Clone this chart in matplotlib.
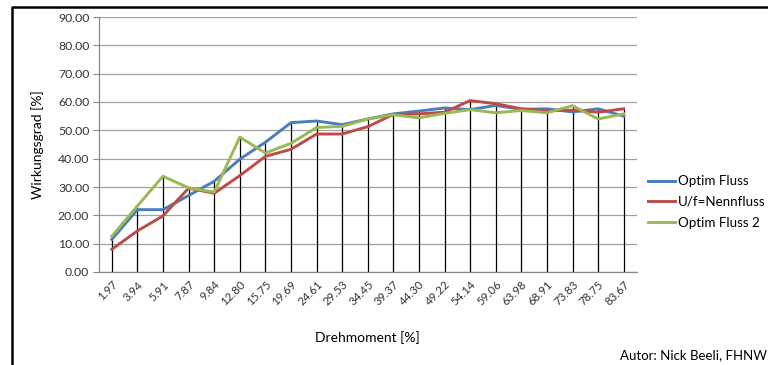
import matplotlib
matplotlib.use("Agg")
import matplotlib.pyplot as plt
import numpy as np

plt.rcParams['font.family'] = ['Lato', 'DejaVu Sans']

torque = ["1.97", "3.94", "5.91", "7.87", "9.84", "12.80", "15.75", "19.69", "24.61",
          "29.53", "34.45", "39.37", "44.30", "49.22", "54.14", "59.06", "63.98",
          "68.91", "73.83", "78.75", "83.67"]

optim_fluss = [11.5, 22.0, 22.0, 27.0, 32.0, 39.8, 45.8, 52.7, 53.3, 52.0, 54.0, 55.8,
               56.8, 57.9, 57.3, 58.8, 57.4, 57.6, 56.5, 57.6, 55.0]
nennfluss = [8.0, 14.5, 19.8, 29.6, 27.8, 34.0, 40.8, 43.3, 48.7, 48.7, 51.3, 55.6,
             55.8, 56.4, 60.5, 59.4, 57.6, 56.9, 57.1, 56.4, 57.6]
optim_fluss_2 = [12.6, 23.3, 33.8, 29.7, 28.2, 47.6, 42.0, 45.4, 51.0, 51.4, 54.0, 55.5,
                 54.4, 56.0, 57.3, 56.2, 57.0, 56.2, 58.7, 54.0, 55.8]

series = [
    ("Optim Fluss", optim_fluss, "#4A7EBB"),
    ("U/f=Nennfluss", nennfluss, "#BE4B48"),
    ("Optim Fluss 2", optim_fluss_2, "#98B954"),
]

W, H = 768, 365
fig = plt.figure(figsize=(W / 100, H / 100), dpi=100)
ax = fig.add_axes([99 / W, 1 - 272 / H, (636.5 - 99) / W, (272 - 17) / H])

x = np.arange(len(torque))
top = np.max(np.vstack([optim_fluss, nennfluss, optim_fluss_2]), axis=0)

# drop lines from the highest series down to the axis
ax.vlines(x, 0, top, colors="black", linewidth=0.9, zorder=2)

for name, vals, col in series:
    ax.plot(x, vals, color=col, linewidth=2.1, label=name, zorder=3,
            solid_joinstyle="round")

ax.set_xlim(-0.5, len(torque) - 0.5)
ax.set_ylim(0, 90)
ax.set_yticks(np.arange(0, 91, 10))
ax.set_yticklabels([f"{v:.2f}" for v in np.arange(0, 91, 10)], fontsize=8.8, color="#333333")
ax.set_xticks(x)
ax.set_xticklabels(torque, rotation=45, ha="right", va="top",
                   rotation_mode="anchor", fontsize=8.3, color="#333333")
ax.tick_params(axis="x", length=0, pad=5)
ax.tick_params(axis="y", length=4, color="#888888", width=0.8, pad=3)
ax.grid(axis="y", color="#A0A0A0", linewidth=0.9)
ax.set_axisbelow(True)
for s in ("top", "right"):
    ax.spines[s].set_visible(False)
for s in ("left", "bottom"):
    ax.spines[s].set_color("#888888")
    ax.spines[s].set_linewidth(0.9)

ax.set_ylabel("Wirkungsgrad [%]", fontsize=10)
ax.yaxis.set_label_coords((44 - 99) / 537.5, 0.5)
ax.set_xlabel("Drehmoment [%]", fontsize=10)
ax.xaxis.set_label_coords(0.5, (272 - 331) / 255)

fig.legend(loc="upper left", bbox_to_anchor=(643 / W, 1 - 170 / H), frameon=False,
           fontsize=9.6, handlelength=2.0, handletextpad=0.25, labelspacing=0.65,
           borderaxespad=0)

fig.text(767 / W, 1 - 355 / H, "Autor: Nick Beeli, FHNW", ha="right", va="center",
         fontsize=9.5)

# outer frame (top and left edges)
fig.add_artist(plt.Line2D([12 / W, 12 / W, 1.0], [0.0, 1 - 7 / H, 1 - 7 / H],
                          transform=fig.transFigure, color="black", linewidth=1.8))

fig.savefig("out.png", dpi=100, facecolor="white")
